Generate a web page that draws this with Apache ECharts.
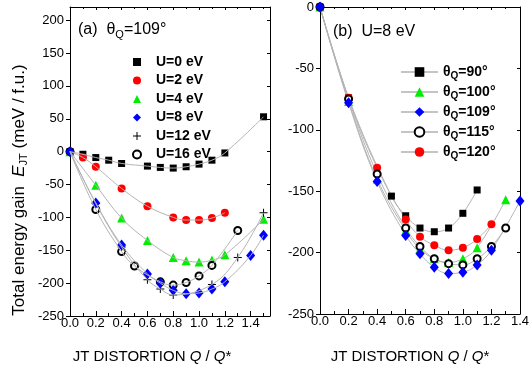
<!DOCTYPE html>
<html>
<head>
<meta charset="utf-8">
<script src="https://cdn.jsdelivr.net/npm/echarts@6/dist/echarts.min.js"></script>
<style>
html, body { margin: 0; padding: 0; background: #fff; }
#main { width: 530px; height: 371px; }
</style>
</head>
<body>
<div id="main"></div>
<script>
// panel (a): theta_Q = 109 deg, different U
var u0Q = [0, 0.1, 0.2, 0.3, 0.4, 0.6, 0.7, 0.8, 0.9, 1.0, 1.1, 1.2, 1.5];
var u0E = [0, -4, -9, -13, -18, -22, -24, -25, -23, -19, -13, -2, 53];
var u2Q = [0, 0.1, 0.2, 0.4, 0.6, 0.8, 0.9, 1.0, 1.1, 1.2];
var u2E = [0, -9, -23, -56, -83, -100, -104, -104, -101, -93];
var u4Q = [0, 0.2, 0.4, 0.6, 0.8, 0.9, 1.0, 1.1, 1.2, 1.5];
var u4E = [0, -51, -101, -135, -161, -166, -168, -165, -157, -103];
var u8Q = [0, 0.2, 0.4, 0.6, 0.7, 0.8, 0.9, 1.0, 1.1, 1.2, 1.4, 1.5];
var u8E = [0, -78, -142, -186, -200, -211, -216, -215, -209, -198, -158, -127];
var u12Q = [0, 0.2, 0.4, 0.6, 0.7, 0.8, 1.1, 1.3, 1.5];
var u12E = [0, -79, -145, -195, -209, -218, -202, -161, -93];
var u16Q = [0, 0.2, 0.4, 0.5, 0.7, 0.8, 0.9, 1.0, 1.1, 1.3];
var u16E = [0, -88, -152, -174, -198, -203, -199, -189, -173, -120];

// panel (b): U = 8 eV, different theta_Q
var t90Q = [0, 0.2, 0.5, 0.6, 0.7, 0.8, 0.9, 1.0, 1.1];
var t90E = [0, -74, -154, -170, -180, -183, -180, -168, -149];
var t100Q = [0, 0.2, 0.4, 0.6, 0.7, 0.8, 0.9, 1.0, 1.1, 1.3];
var t100E = [0, -77, -140, -182, -197, -205, -208, -205, -196, -157];
var t109Q = [0, 0.2, 0.4, 0.6, 0.7, 0.8, 0.9, 1.0, 1.1, 1.2, 1.4];
var t109E = [0, -78, -142, -186, -201, -212, -217, -216, -210, -198, -158];
var t115Q = [0, 0.2, 0.4, 0.6, 0.7, 0.8, 0.9, 1.0, 1.1, 1.2, 1.3];
var t115E = [0, -75, -136, -180, -195, -205, -209, -210, -205, -195, -180];
var t120Q = [0, 0.2, 0.4, 0.6, 0.7, 0.8, 0.9, 1.0, 1.1, 1.2];
var t120E = [0, -74, -131, -173, -187, -194, -198, -196, -189, -177];

var uNames = ["U=0 eV", "U=2 eV", "U=4 eV", "U=8 eV", "U=12 eV", "U=16 eV"];
var tNames = ["θQ=90°", "θQ=100°", "θQ=109°", "θQ=115°", "θQ=120°"];

var FONT = "Liberation Sans";
var GRAY = "#b4b4b4";
var PLUS = "path://M3.5,0h1v3.5h3.5v1h-3.5v3.5h-1v-3.5h-3.5v-1h3.5z";

function pairs(q, e) {
    return q.map(function (x, i) { return [x, e[i]]; });
}

function xAx(grid, pos, max, labels, showMax) {
    var bottom = pos === "bottom";
    return {
        type: "value", gridIndex: grid, position: pos,
        min: 0, max: max, interval: 0.2,
        axisLine: { show: true, onZero: false, lineStyle: { color: "#000", width: 1 } },
        axisTick: { show: true, inside: true, length: bottom ? 5 : 3, lineStyle: { color: "#000" } },
        minorTick: { show: true, splitNumber: 2, length: bottom ? 3 : 2, lineStyle: { color: "#000" } },
        axisLabel: {
            show: labels, margin: 1, fontSize: 13, color: "#000", fontFamily: FONT,
            showMaxLabel: showMax,
            formatter: function (v) { return v.toFixed(1); }
        },
        splitLine: { show: false }
    };
}

function yAx(grid, pos, max, labels, showMax) {
    var left = pos === "left";
    return {
        type: "value", gridIndex: grid, position: pos,
        min: -250, max: max, interval: 50,
        axisLine: { show: true, onZero: false, lineStyle: { color: "#000", width: 1 } },
        axisTick: { show: true, inside: !left, length: left ? 4 : 3, lineStyle: { color: "#000" } },
        axisLabel: {
            show: labels, margin: 6, fontSize: 13, color: "#000", fontFamily: FONT,
            showMaxLabel: showMax
        },
        splitLine: { show: false }
    };
}

function fit(name, q, e, xi, yi) {
    return {
        name: name, type: "line", xAxisIndex: xi, yAxisIndex: yi,
        data: pairs(q, e), smooth: 0.4, showSymbol: false, silent: true,
        lineStyle: { color: GRAY, width: 1 }
    };
}

function dots(name, q, e, symbol, size, color) {
    return {
        name: name, type: "scatter", xAxisIndex: 0, yAxisIndex: 0,
        data: pairs(q, e), symbol: symbol, symbolSize: size,
        itemStyle: { color: color, borderColor: color, borderWidth: symbol === "emptyCircle" ? 1 : 0, opacity: 1 }
    };
}

function curve(name, q, e, symbol, size, color) {
    return {
        name: name, type: "line", xAxisIndex: 2, yAxisIndex: 2,
        data: pairs(q, e), smooth: 0.4, showAllSymbol: true,
        symbol: symbol, symbolSize: size,
        lineStyle: { color: GRAY, width: 1 },
        itemStyle: { color: color, borderColor: color, borderWidth: symbol === "emptyCircle" ? 1 : 0 }
    };
}

var chart = echarts.init(document.getElementById("main"), null, { renderer: "canvas" });

var option = {
    backgroundColor: "#fff",
    animation: false,
    textStyle: { fontFamily: FONT },
    grid: [
        { left: 70, top: 7, width: 200, height: 309, outerBoundsMode: "none" },
        { left: 320, top: 7, width: 200, height: 307, outerBoundsMode: "none" }
    ],
    xAxis: [
        xAx(0, "bottom", 1.55, true, false),
        xAx(0, "top", 1.55, false, false),
        xAx(1, "bottom", 1.4, true, true),
        xAx(1, "top", 1.4, false, false)
    ],
    yAxis: [
        yAx(0, "left", 220, true, false),
        yAx(0, "right", 220, false, false),
        yAx(1, "left", 0, true, true),
        yAx(1, "right", 0, false, false)
    ],
    legend: [
        {
            data: uNames.slice(0, 5).concat([
                { name: uNames[5], itemStyle: { borderWidth: 1 } }
            ]),
            orient: "vertical", left: 127, top: 50,
            itemWidth: 8, itemHeight: 8, itemGap: 4.5,
            textStyle: { fontSize: 14, fontWeight: "bold", color: "#000", lineHeight: 14, padding: [0, 0, 0, 10] }
        },
        {
            data: tNames, orient: "vertical", left: 395, top: 58,
            itemWidth: 37, itemHeight: 12, itemGap: 2,
            lineStyle: { width: 2, color: "#c4c4c4" },
            formatter: function (name) {
                return "{b|θ}{s|Q}{b|" + name.replace("θQ", "") + "}";
            },
            textStyle: {
                color: "#000",
                rich: {
                    b: { fontSize: 14, fontWeight: "bold", color: "#000", lineHeight: 16 },
                    s: { fontSize: 10, fontWeight: "bold", color: "#000", lineHeight: 10, padding: [8, 0, 0, 0] }
                }
            }
        }
    ],
    graphic: [
        {
            type: "text", x: 78, y: 30,
            style: {
                text: "(a)  {t|θ}{s|Q}{t|=109°}",
                fontSize: 16, fontFamily: FONT, fill: "#000", verticalAlign: "middle",
                rich: {
                    t: { fontSize: 16, fontFamily: FONT, lineHeight: 18 },
                    s: { fontSize: 11, fontFamily: FONT, lineHeight: 11, padding: [9, 0, 0, 0] }
                }
            }
        },
        {
            type: "text", x: 333, y: 32,
            style: { text: "(b)  U=8 eV", fontSize: 16, fontFamily: FONT, fill: "#000", verticalAlign: "middle" }
        },
        {
            type: "text", x: 19, y: 190, rotation: Math.PI / 2,
            style: {
                text: "Total energy gain  {i|E}{s|JT} (meV / f.u.)",
                fontSize: 17, fontFamily: FONT, fill: "#000", align: "center", verticalAlign: "middle",
                rich: {
                    i: { fontSize: 17, fontStyle: "italic", fontFamily: FONT, lineHeight: 19 },
                    s: { fontSize: 11, fontFamily: FONT, lineHeight: 11, padding: [9, 0, 0, 0] }
                }
            }
        },
        {
            type: "text", x: 152, y: 357,
            style: {
                text: "JT DISTORTION {i|Q} / {i|Q}*",
                fontSize: 15, fontFamily: FONT, fill: "#000", align: "center", verticalAlign: "middle",
                rich: { i: { fontSize: 15, fontStyle: "italic", fontFamily: FONT } }
            }
        },
        {
            type: "text", x: 410, y: 357,
            style: {
                text: "JT DISTORTION {i|Q} / {i|Q}*",
                fontSize: 15, fontFamily: FONT, fill: "#000", align: "center", verticalAlign: "middle",
                rich: { i: { fontSize: 15, fontStyle: "italic", fontFamily: FONT } }
            }
        }
    ],
    series: [
        fit("fit U0", u0Q, u0E, 0, 0),
        fit("fit U2", u2Q, u2E, 0, 0),
        fit("fit U4", u4Q, u4E, 0, 0),
        fit("fit U8", u8Q, u8E, 0, 0),
        fit("fit U12", u12Q, u12E, 0, 0),
        fit("fit U16", u16Q, u16E, 0, 0),
        dots(uNames[0], u0Q, u0E, "rect", 7, "#000"),
        dots(uNames[1], u2Q, u2E, "circle", 8, "#ff0000"),
        dots(uNames[2], u4Q, u4E, "triangle", 9, "#00ee00"),
        dots(uNames[5], u16Q, u16E, "emptyCircle", 7, "#000"),
        dots(uNames[4], u12Q, u12E, PLUS, 8, "#000"),
        dots(uNames[3], u8Q, u8E, "diamond", [9, 11], "#0000ff"),
        curve(tNames[0], t90Q, t90E, "rect", 7, "#000"),
        curve(tNames[4], t120Q, t120E, "circle", 8, "#ff0000"),
        curve(tNames[1], t100Q, t100E, "triangle", 9, "#00ee00"),
        curve(tNames[3], t115Q, t115E, "emptyCircle", 7, "#000"),
        curve(tNames[2], t109Q, t109E, "diamond", [9, 11], "#0000ff")
    ]
};

chart.setOption(option);
</script>
</body>
</html>
